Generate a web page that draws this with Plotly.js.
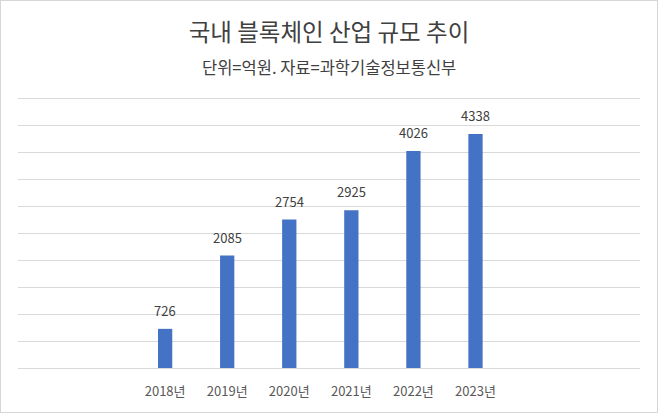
<!DOCTYPE html>
<html>
<head>
<meta charset="utf-8">
<script src="https://cdn.plot.ly/plotly-3.0.1.min.js"></script>
<style>
  html, body { margin: 0; padding: 0; background: #ffffff; }
  #frame { width: 658px; height: 413px; box-sizing: border-box; border: 1px solid #d6d6d6; background: #fff; }
  #chart { width: 656px; height: 411px; }
</style>
</head>
<body>
<div id="frame"><div id="chart"></div></div>
<script>
const years = ["2018년", "2019년", "2020년", "2021년", "2022년", "2023년"];
const values = [726, 2085, 2754, 2925, 4026, 4338];
const gridValues = [0, 500, 1000, 1500, 2000, 2500, 3000, 3500, 4000, 4500, 5000];
const titleText = "국내 블록체인 산업 규모 추이";
const subtitleText = "단위=억원. 자료=과학기술정보통신부";

const FONT = '"Noto Sans CJK KR", "Noto Sans", sans-serif';

const trace = {
  type: "bar",
  x: years,
  y: values,
  width: 0.23,
  marker: { color: "#4472C4", line: { color: "#4472C4", width: 0 } },
  cliponaxis: false,
  hoverinfo: "x+y"
};

const labelAnnotations = years.map((yr, i) => ({
  x: yr, y: values[i],
  xref: "x", yref: "y",
  text: String(values[i]),
  showarrow: false,
  xanchor: "center", yanchor: "bottom",
  yshift: 7,
  font: { family: FONT, size: 13, color: "#404040" }
}));

const layout = {
  width: 656,
  height: 411,
  margin: { l: 17, r: 17, t: 92, b: 44 },
  paper_bgcolor: "#ffffff",
  plot_bgcolor: "#ffffff",
  showlegend: false,
  font: { family: FONT, color: "#595959" },
  title: {
    text: titleText,
    font: { family: FONT, size: 23.5, color: "#404040" },
    x: 0.5, xanchor: "center",
    y: 1 - 32 / 411, yref: "container", yanchor: "middle"
  },
  annotations: [{
    text: subtitleText,
    xref: "paper", yref: "paper",
    x: 0.5, xanchor: "center",
    y: 1 + (91 - 65) / 275, yanchor: "middle",
    showarrow: false,
    font: { family: FONT, size: 16.5, color: "#404040" }
  }].concat(labelAnnotations),
  xaxis: {
    type: "category",
    range: [-2.37, 7.65],
    showgrid: false,
    zeroline: false,
    showline: false,
    ticks: "",
    tickfont: { family: FONT, size: 13, color: "#595959" },
    ticklabelstandoff: 14
  },
  yaxis: {
    range: [0, 5100],
    tickvals: gridValues,
    showgrid: true,
    gridcolor: "#d9d9d9",
    gridwidth: 1,
    zeroline: true,
    zerolinecolor: "#d9d9d9",
    zerolinewidth: 1,
    showticklabels: false,
    ticks: "",
    showline: false
  }
};

Plotly.newPlot("chart", [trace], layout, { displayModeBar: false, staticPlot: true });
</script>
</body>
</html>
